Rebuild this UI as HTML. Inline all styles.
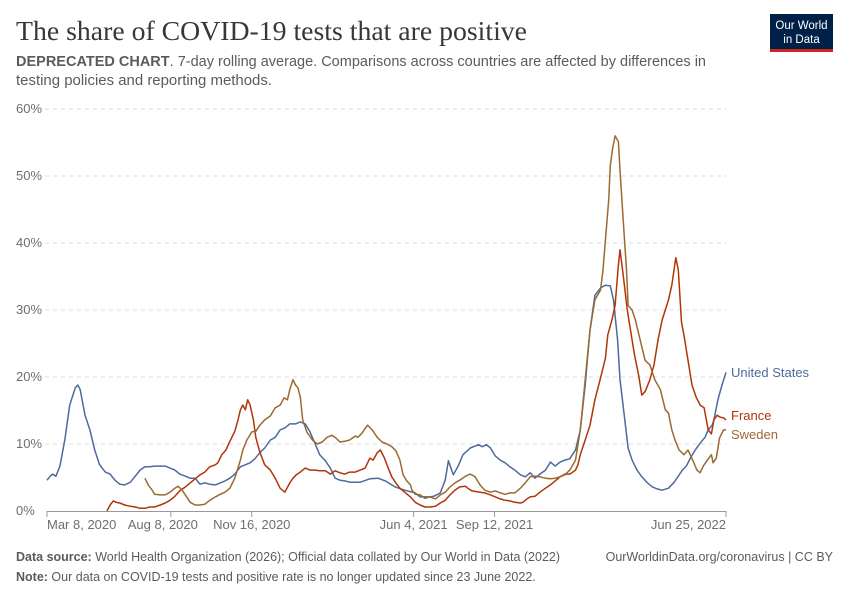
<!DOCTYPE html>
<html><head><meta charset="utf-8"><style>
html,body{margin:0;padding:0;background:#fff}
svg{display:block;font-family:"Liberation Sans",sans-serif}
</style></head><body>
<svg id="chart" width="850" height="600" viewBox="0 0 850 600">
<text x="16" y="40" font-family="Liberation Serif,serif" font-size="27" fill="#373737" textLength="511" lengthAdjust="spacingAndGlyphs">The share of COVID-19 tests that are positive</text>
<g>
<rect x="770" y="14" width="63" height="35" fill="#002147"/>
<rect x="770" y="49" width="63" height="3" fill="#ce261e"/>
<text x="801.5" y="29" font-size="11.5" fill="#fff" text-anchor="middle">Our World</text>
<text x="801.5" y="43" font-size="11.5" fill="#fff" text-anchor="middle">in Data</text>
</g>
<text x="16" y="66" font-size="14.5" fill="#5b5b5b" textLength="690" lengthAdjust="spacingAndGlyphs"><tspan font-weight="bold">DEPRECATED CHART</tspan>. 7-day rolling average. Comparisons across countries are affected by differences in</text>
<text x="16" y="85" font-size="14.5" fill="#5b5b5b" textLength="256" lengthAdjust="spacingAndGlyphs">testing policies and reporting methods.</text>
<g id="grid"></g>
<g id="xaxis"></g>
<g id="series"></g>
<text x="16" y="561" font-size="12.5" fill="#5b5b5b"><tspan font-weight="bold">Data source:</tspan> World Health Organization (2026); Official data collated by Our World in Data (2022)</text>
<text x="833" y="561" font-size="12.5" fill="#5b5b5b" text-anchor="end">OurWorldinData.org/coronavirus | CC BY</text>
<text x="16" y="581" font-size="12.5" fill="#5b5b5b"><tspan font-weight="bold">Note:</tspan> Our data on COVID-19 tests and positive rate is no longer updated since 23 June 2022.</text>
</svg>
<script>
// days since Mar 8, 2020 ; values in %
const yTicks = [0,10,20,30,40,50,60];
const xTickDays = [0,153,253,453,553,839];
const xTickLabels = ["Mar 8, 2020","Aug 8, 2020","Nov 16, 2020","Jun 4, 2021","Sep 12, 2021","Jun 25, 2022"];
const seriesNames = ["United States","France","Sweden"];
const usDays = [0,4,7,11,16,22,28,35,38,41,47,53,59,65,72,78,84,90,96,103,109,115,121,127,133,140,146,152,158,164,171,177,183,189,195,201,208,214,220,226,232,239,245,251,257,263,269,276,282,288,294,300,307,313,319,325,331,337,344,350,356,362,368,374,387,399,409,418,430,442,455,461,473,478,486,492,496,502,508,514,523,533,538,543,548,554,560,566,572,578,585,591,597,603,609,616,622,628,634,640,646,653,659,665,671,677,684,690,696,700,705,708,714,718,723,729,735,742,748,754,760,768,775,780,785,790,795,801,807,813,817,822,824,829,834,839];
const usVals = [4.6,5.2,5.5,5.2,6.7,10.6,15.8,18.4,18.8,18.1,14.3,12.1,9.1,6.9,5.8,5.5,4.6,4.0,3.9,4.3,5.2,6.1,6.6,6.6,6.7,6.7,6.7,6.4,6.1,5.5,5.2,4.9,4.9,4.0,4.2,4.0,3.9,4.2,4.5,4.9,5.5,6.6,6.9,7.2,7.8,8.7,9.4,10.6,11.0,12.1,12.4,13.0,13.0,13.3,13.0,11.8,10.1,8.4,7.5,6.4,4.9,4.6,4.5,4.3,4.3,4.8,4.9,4.5,3.6,3.1,2.7,2.1,2.1,2.2,2.7,4.6,7.5,5.4,6.7,8.4,9.4,9.9,9.6,9.9,9.4,8.2,7.6,7.2,6.6,6.1,5.4,5.1,5.7,4.9,5.5,6.1,7.3,6.7,7.3,7.6,7.8,9.1,12.1,18.8,27.0,32.2,33.3,33.7,33.6,31.5,25.5,19.6,13.6,9.4,7.6,6.1,5.1,4.2,3.6,3.3,3.1,3.4,4.3,5.2,6.1,6.7,7.9,9.1,10.1,11.0,12.1,12.8,13.6,16.6,18.8,20.7];
const frDays = [74,78,82,85,90,96,103,109,115,121,127,133,140,146,152,158,164,171,177,183,189,195,201,208,211,216,221,226,232,236,239,242,245,248,251,255,258,263,269,276,282,288,294,300,304,308,313,319,325,331,337,344,350,356,362,368,374,381,387,393,399,403,408,412,417,421,426,431,436,442,449,455,461,467,473,480,486,492,498,504,510,517,520,525,535,541,548,554,560,566,572,578,585,588,593,597,603,609,616,622,628,634,640,646,653,656,659,665,671,677,684,690,693,698,702,706,708,712,717,721,726,731,735,739,745,750,755,760,764,768,772,777,780,784,787,792,797,802,807,812,817,821,824,828,832,836,839];
const frVals = [0,0.9,1.5,1.3,1.2,0.9,0.7,0.6,0.4,0.4,0.6,0.6,0.9,1.2,1.6,2.2,3.0,3.6,4.2,4.8,5.4,5.8,6.6,6.9,7.2,8.4,9.1,10.4,11.9,13.6,15.1,15.8,15.1,16.6,15.8,13.6,11.0,8.8,6.9,6.1,4.9,3.4,2.8,4.2,4.9,5.4,5.8,6.4,6.1,6.1,6.0,6.0,5.5,6.0,5.7,5.5,5.8,5.8,6.1,6.4,7.9,7.6,8.7,9.1,7.9,6.6,5.1,4.2,3.4,2.8,2.1,1.3,0.9,0.6,0.6,0.7,1.2,1.6,2.4,3.1,3.6,3.7,3.4,3.0,2.8,2.7,2.4,2.1,1.8,1.6,1.5,1.3,1.2,1.3,1.8,2.1,2.2,2.8,3.4,3.9,4.5,5.1,5.5,5.5,6.1,6.9,8.4,10.6,12.8,16.6,19.9,22.8,26.3,28.5,30.7,36.7,39.0,35.2,30.0,27.0,23.3,20.3,17.3,17.8,19.6,21.8,25.5,28.5,30.0,31.5,33.7,37.8,36.0,28.2,26.3,22.5,18.8,17.0,15.8,15.4,12.1,11.5,13.6,14.3,14.0,13.9,13.6];
const seDays = [121,125,130,133,140,146,152,158,162,167,172,177,183,189,195,201,208,214,220,226,232,239,242,247,253,258,263,269,276,282,288,293,297,300,304,307,310,313,316,321,328,334,340,346,352,357,362,368,374,381,384,389,396,402,408,414,420,426,431,436,440,444,449,451,455,461,467,473,480,486,492,498,504,510,517,523,529,535,541,548,554,560,566,572,578,585,591,597,603,609,616,622,628,634,640,646,653,659,665,671,677,684,687,690,694,696,699,702,706,708,712,716,718,723,727,733,739,745,751,758,764,768,772,776,781,787,792,799,803,807,811,816,821,823,827,831,836,839];
const seVals = [4.9,3.9,3.1,2.5,2.4,2.4,2.8,3.4,3.7,3.1,2.2,1.3,0.9,0.9,1.0,1.6,2.1,2.5,2.8,3.4,4.9,7.6,9.1,10.6,11.8,11.9,12.8,13.6,14.2,15.4,15.8,16.9,16.6,18.1,19.6,18.8,18.4,17.0,13.6,11.8,10.6,10.0,10.3,11.0,11.3,10.9,10.3,10.4,10.6,11.2,11.0,11.6,12.8,12.1,11.0,10.3,10.0,9.6,9.0,7.6,5.4,4.6,3.9,3.1,2.5,2.4,1.9,2.1,1.8,2.4,2.8,3.6,4.2,4.6,5.2,5.5,5.1,3.9,3.1,2.8,3.0,2.7,2.5,2.7,2.7,3.4,4.2,5.1,5.2,5.1,4.9,4.8,4.9,5.1,5.4,6.1,7.6,12.1,19.6,27.0,31.5,33.0,36.0,40.4,46.4,51.6,54.2,56.0,55.1,50.9,43.4,36.0,30.7,30.0,28.5,25.5,22.5,21.8,19.6,18.1,15.1,14.6,12.1,10.6,9.1,8.4,9.1,7.3,6.1,5.7,6.7,7.6,8.4,7.2,7.9,10.9,12.1,12.1];
const colors = ["#4c6a9c","#b13507","#9a6a30"];

const NS="http://www.w3.org/2000/svg";
const x0=47,x1=726,y0=511,y1=109;
const xScale=d=>x0+(d-0)*(x1-x0)/839;
const yScale=v=>y0-(v/60)*(y0-y1);
function mk(tag,attrs,parent){const e=document.createElementNS(NS,tag);for(const k in attrs)e.setAttribute(k,attrs[k]);parent.appendChild(e);return e;}
const grid=document.getElementById('grid');
yTicks.forEach(t=>{
  const y=yScale(t);
  if(t>0){const l=mk('line',{x1:45,x2:727,y1:y,y2:y,stroke:'#dddddd','stroke-dasharray':'4,4'},grid);
  
  }
  const tx=mk('text',{x:16,y:y+4,'font-size':13,fill:'#6e6e6e'},grid);
  
  
  tx.textContent=t+'%';
});
const xa=document.getElementById('xaxis');
const ax=mk('line',{x1:47,x2:726,y1:511.5,y2:511.5,stroke:'#999'},xa);


xTickDays.forEach((d,i)=>{
  const x=xScale(d);
  const tk=mk('line',{x1:x,x2:x,y1:511,y2:517,stroke:'#999'},xa);
  
  
  let anchor='middle',tx=x;
  if(i===0)anchor='start';
  if(i===xTickDays.length-1)anchor='end';
  if(i===1)tx=x-8;
  const t=mk('text',{x:tx,y:529,'font-size':13,fill:'#6e6e6e','text-anchor':anchor},xa);
  
  
  t.textContent=xTickLabels[i];
});
const sg=document.getElementById('series');
const allDays=[usDays,frDays,seDays],allVals=[usVals,frVals,seVals];
const labelY=[377,420,439];
allDays.forEach((days,s)=>{
  const pts=days.map((d,i)=>xScale(d).toFixed(1)+','+yScale(allVals[s][i]).toFixed(1)).join(' ');
  const p=mk('polyline',{points:pts,fill:'none',stroke:colors[s],'stroke-width':1.5,'stroke-linejoin':'round'},sg);
  
  
  const t=mk('text',{x:731,y:labelY[s],'font-size':13,fill:colors[s]},sg);
  
  
  t.textContent=seriesNames[s];
});
</script>
</body></html>
